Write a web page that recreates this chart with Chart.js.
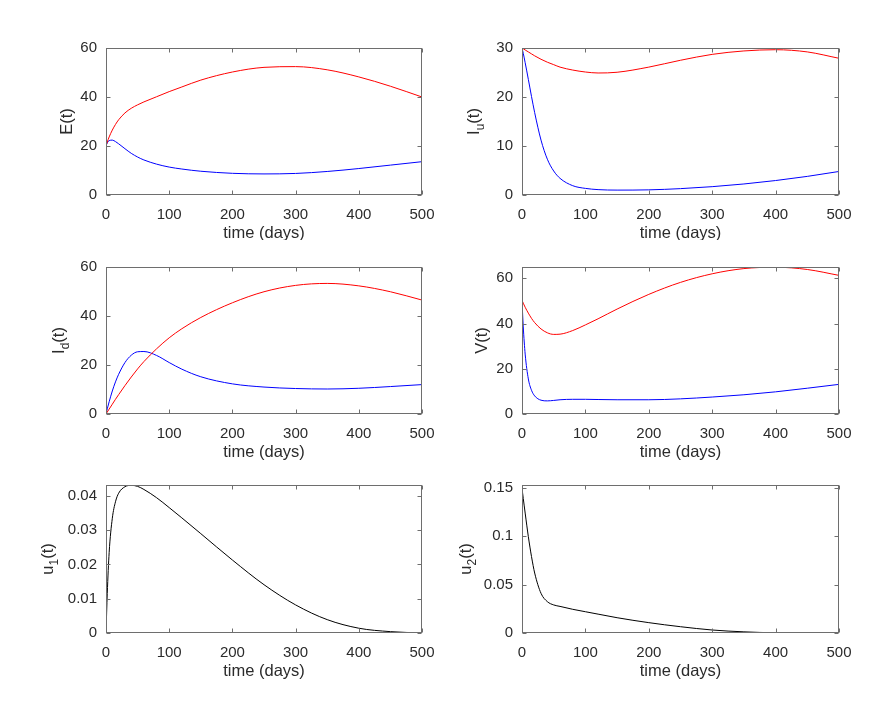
<!DOCTYPE html>
<html>
<head>
<meta charset="utf-8">
<script src="https://cdn.jsdelivr.net/npm/chart.js@4.4.1/dist/chart.umd.min.js"></script>
<style>
    body { margin: 0; background: #fff; width: 894px; height: 719px; position: relative; overflow: hidden; }
    canvas { position: absolute; }
</style>
</head>
<body>
<canvas id="panelE"></canvas>
<canvas id="panelIu"></canvas>
<canvas id="panelId"></canvas>
<canvas id="panelV"></canvas>
<canvas id="panelU1"></canvas>
<canvas id="panelU2"></canvas>
<script>
// shared time grid (days)
const timeDays = [0, 2, 5, 10, 15, 20, 30, 40, 50, 60, 80, 100, 120, 150, 200, 250, 300, 350, 400, 450, 500];
const xTicks = [0, 100, 200, 300, 400, 500];

// E(t)
const eRed  = [20, 21.6, 23.7, 26.5, 28.8, 30.7, 33.5, 35.4, 36.8, 38, 40.1, 42.2, 44.1, 46.9, 50.2, 52.1, 52.4, 51.1, 48.2, 44.4, 40];
const eBlue = [20, 21.3, 22.2, 22.4, 21.8, 20.9, 18.9, 17, 15.5, 14.3, 12.6, 11.4, 10.6, 9.7, 8.85, 8.6, 8.8, 9.6, 10.8, 12.2, 13.6];
const eTicks = [0, 20, 40, 60];

// I_u(t)
const iuRed  = [30, 29.85, 29.6, 29.2, 28.8, 28.4, 27.7, 27.1, 26.6, 26.1, 25.5, 25.1, 24.9, 25.05, 26.1, 27.5, 28.7, 29.4, 29.65, 29.2, 27.9];
const iuBlue = [30, 28.9, 27, 23.6, 20.1, 16.8, 11.2, 7.3, 4.9, 3.4, 1.9, 1.35, 1.1, 1, 1.05, 1.3, 1.7, 2.25, 2.95, 3.8, 4.8];
const iuTicks = [0, 10, 20, 30];

// I_d(t)
const idRed  = [0, 0.8, 2, 4, 6, 7.9, 11.6, 15.1, 18.4, 21.4, 26.6, 31.1, 34.8, 39.4, 45.4, 49.9, 52.5, 53.3, 52.3, 49.9, 46.5];
const idBlue = [0, 2.1, 5, 9.4, 13.1, 16.2, 21, 24, 25.4, 25.5, 23.9, 21, 18.3, 15.2, 12.3, 11, 10.4, 10.2, 10.5, 11.2, 12];
const idTicks = [0, 20, 40, 60];

// V(t)
const vRed  = [50.3, 49, 47.2, 44.6, 42.3, 40.4, 37.6, 35.9, 35.2, 35.3, 36.9, 39.4, 42.1, 46.4, 52.9, 58.2, 62, 64.3, 64.9, 63.9, 61.3];
const vBlue = [50, 38.5, 26.5, 15.5, 10.5, 8, 6.1, 5.8, 6, 6.3, 6.5, 6.5, 6.4, 6.3, 6.3, 6.7, 7.5, 8.5, 9.8, 11.4, 13.1];
const vTicks = [0, 20, 40, 60];

// controls
const u1 = [0, 0.0115, 0.0235, 0.0335, 0.0383, 0.0408, 0.0427, 0.0431, 0.0428, 0.0419, 0.0395, 0.0366, 0.0336, 0.029, 0.0213, 0.0141, 0.0082, 0.0039, 0.0014, 0.0004, 0];
const u2 = [0.15, 0.139, 0.124, 0.0996, 0.079, 0.062, 0.041, 0.0324, 0.029, 0.0275, 0.0245, 0.022, 0.0195, 0.0158, 0.0107, 0.0065, 0.0031, 0.0012, 0.0002, 0, 0];
const u1Ticks = [0, 0.01, 0.02, 0.03, 0.04];
const u2Ticks = [0, 0.05, 0.1, 0.15];

const TEXT_COLOR = "#2b2b2b";
const AXIS_COLOR = "#6e6e6e";
const FONT_FAMILY = "'Liberation Sans', Arial, sans-serif";

function toPoints(series) {
    return timeDays.map((t, i) => ({ x: t, y: series[i] }));
}

function fmtTick(v) {
    return String(Number(v.toFixed(4)));
}

// box, inward ticks, axis titles (ylabel may carry a subscript)
const frameAndLabels = {
    id: "frameAndLabels",
    afterDraw(chart, args, opts) {
        const ctx = chart.ctx;
        const a = chart.chartArea;
        const xs = chart.scales.x;
        const ys = chart.scales.y;
        const L = Math.round(a.left) + 0.5, R = Math.round(a.right) - 0.5;
        const T = Math.round(a.top) + 0.5, B = Math.round(a.bottom) - 0.5;
        ctx.save();
        ctx.strokeStyle = AXIS_COLOR;
        ctx.lineWidth = 1;
        ctx.strokeRect(L, T, R - L, B - T);
        ctx.beginPath();
        xs.ticks.forEach((t) => {
            const px = Math.round(xs.getPixelForValue(t.value)) + 0.5;
            ctx.moveTo(px, B); ctx.lineTo(px, B - 4);
            ctx.moveTo(px, T); ctx.lineTo(px, T + 4);
        });
        ys.ticks.forEach((t) => {
            const py = Math.round(ys.getPixelForValue(t.value)) + 0.5;
            ctx.moveTo(L, py); ctx.lineTo(L + 4, py);
            ctx.moveTo(R, py); ctx.lineTo(R - 4, py);
        });
        ctx.stroke();

        ctx.fillStyle = TEXT_COLOR;
        ctx.font = "16.5px " + FONT_FAMILY;
        ctx.textAlign = "center";
        ctx.textBaseline = "alphabetic";
        ctx.fillText("time (days)", (a.left + a.right) / 2, a.bottom + 43);

        // y label, rotated
        const mainFont = "16.5px " + FONT_FAMILY;
        const subFont = "12px " + FONT_FAMILY;
        ctx.textAlign = "left";
        ctx.font = mainFont;
        const wMain = ctx.measureText(opts.main).width;
        const wTail = ctx.measureText(opts.tail).width;
        ctx.font = subFont;
        const wSub = opts.sub ? ctx.measureText(opts.sub).width : 0;
        const total = wMain + wSub + wTail;
        ctx.translate(opts.baseX, (a.top + a.bottom) / 2);
        ctx.rotate(-Math.PI / 2);
        let x = -total / 2;
        ctx.font = mainFont;
        ctx.fillText(opts.main, x, 0);
        x += wMain;
        if (opts.sub) {
            ctx.font = subFont;
            ctx.fillText(opts.sub, x, 5);
            x += wSub;
        }
        ctx.font = mainFont;
        ctx.fillText(opts.tail, x, 0);
        ctx.restore();
    },
};

function makePanel(canvasID, geom, datasets, yMax, yTicks, label) {
    const el = document.getElementById(canvasID);
    el.width = geom.w;
    el.height = geom.h;
    el.style.left = geom.left + "px";
    el.style.top = geom.top + "px";
    return new Chart(el, {
        type: "line",
        data: {
            datasets: datasets.map((d) => ({
                data: toPoints(d.values),
                borderColor: d.color,
                borderWidth: 1,
                pointRadius: 0,
                cubicInterpolationMode: "monotone",
                fill: false,
            })),
        },
        options: {
            responsive: false,
            animation: false,
            events: [],
            layout: { padding: { top: geom.padTop, right: geom.padRight, left: 0, bottom: 0 } },
            plugins: {
                legend: { display: false },
                tooltip: { enabled: false },
                frameAndLabels: label,
            },
            scales: {
                x: {
                    type: "linear",
                    min: 0,
                    max: 500,
                    grid: { display: false, drawTicks: false },
                    border: { display: false },
                    afterBuildTicks: (scale) => { scale.ticks = xTicks.map((v) => ({ value: v })); },
                    afterFit: (scale) => { scale.height = geom.xH; },
                    ticks: {
                        padding: 11,
                        maxRotation: 0,
                        color: TEXT_COLOR,
                        font: { family: FONT_FAMILY, size: 15 },
                        callback: (v) => fmtTick(v),
                    },
                },
                y: {
                    type: "linear",
                    min: 0,
                    max: yMax,
                    grid: { display: false, drawTicks: false },
                    border: { display: false },
                    afterBuildTicks: (scale) => { scale.ticks = yTicks.map((v) => ({ value: v })); },
                    afterFit: (scale) => { scale.width = geom.yW; },
                    ticks: {
                        padding: 9,
                        color: TEXT_COLOR,
                        font: { family: FONT_FAMILY, size: 15 },
                        callback: (v) => fmtTick(v),
                    },
                },
            },
        },
        plugins: [frameAndLabels],
    });
}

// canvas geometry: column x / row y
const colLeft = { left: 0, w: 447, yW: 106, padRight: 25 };
const colRight = { left: 447, w: 447, yW: 75, padRight: 55 };
const row1 = { top: 0, h: 240, padTop: 48, xH: 45 };
const row2 = { top: 240, h: 225, padTop: 27, xH: 51 };
const row3 = { top: 465, h: 254, padTop: 20, xH: 86 };
const geom = (c, r) => Object.assign({}, c, r);

makePanel("panelE", geom(colLeft, row1),
    [{ values: eRed, color: "#ff0000" }, { values: eBlue, color: "#0000ff" }],
    60, eTicks, { main: "E", sub: "", tail: "(t)", baseX: 72 });

makePanel("panelIu", geom(colRight, row1),
    [{ values: iuRed, color: "#ff0000" }, { values: iuBlue, color: "#0000ff" }],
    30, iuTicks, { main: "I", sub: "u", tail: "(t)", baseX: 479 - 447 });

makePanel("panelId", geom(colLeft, row2),
    [{ values: idRed, color: "#ff0000" }, { values: idBlue, color: "#0000ff" }],
    60, idTicks, { main: "I", sub: "d", tail: "(t)", baseX: 64 });

makePanel("panelV", geom(colRight, row2),
    [{ values: vRed, color: "#ff0000" }, { values: vBlue, color: "#0000ff" }],
    65, vTicks, { main: "V", sub: "", tail: "(t)", baseX: 487 - 447 });

makePanel("panelU1", geom(colLeft, row3),
    [{ values: u1, color: "#000000" }],
    0.0432, u1Ticks, { main: "u", sub: "1", tail: "(t)", baseX: 53 });

makePanel("panelU2", geom(colRight, row3),
    [{ values: u2, color: "#000000" }],
    0.153, u2Ticks, { main: "u", sub: "2", tail: "(t)", baseX: 471 - 447 });
</script>
</body>
</html>
